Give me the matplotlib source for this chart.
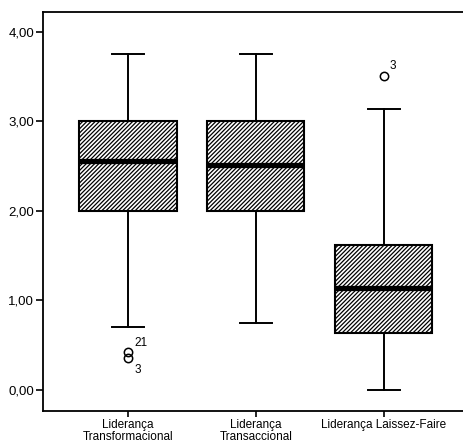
import matplotlib
matplotlib.use("Agg")
import matplotlib.pyplot as plt

plt.rcParams["font.family"] = ["Liberation Sans", "DejaVu Sans"]
plt.rcParams["hatch.linewidth"] = 0.9

categories = ["Liderança\nTransformacional", "Liderança\nTransaccional", "Liderança Laissez-Faire"]
medians = [2.56, 2.51, 1.14]
q1 = [2.00, 2.00, 0.64]
q3 = [3.00, 3.00, 1.62]
whisker_low = [0.70, 0.75, 0.00]
whisker_high = [3.75, 3.75, 3.14]
outliers = [[0.42, 0.36], [], [3.51]]
outlier_labels = [["21", "3"], [], ["3"]]

stats = []
for i in range(len(categories)):
    stats.append({
        "med": medians[i], "q1": q1[i], "q3": q3[i],
        "whislo": whisker_low[i], "whishi": whisker_high[i],
        "fliers": outliers[i],
    })

fig = plt.figure(figsize=(4.63, 4.46), dpi=100)
ax = fig.add_axes([43 / 463, 35 / 446, 420 / 463, 399 / 446])

positions = [1, 2, 3]
bp = ax.bxp(
    stats, positions=positions, widths=0.76, patch_artist=True,
    boxprops=dict(facecolor="white", edgecolor="black", linewidth=1.5, hatch="////////"),
    medianprops=dict(color="black", linewidth=3.8, solid_capstyle="butt"),
    whiskerprops=dict(color="black", linewidth=1.4),
    capprops=dict(color="black", linewidth=1.4),
    capwidths=0.25,
    flierprops=dict(marker="o", markerfacecolor="none", markeredgecolor="black",
                    markersize=6, markeredgewidth=1.1),
)

# labels next to the outlier circles
offsets = {(0, 0): (5, 7), (0, 1): (5, -9), (2, 0): (4, 7)}
for i, (vals, labs) in enumerate(zip(outliers, outlier_labels)):
    for j, (v, lab) in enumerate(zip(vals, labs)):
        dx, dy = offsets[(i, j)]
        ax.annotate(lab, (positions[i], v), xytext=(dx, dy), textcoords="offset points",
                    fontsize=8.5, ha="left", va="center")

ax.set_xlim(0.336, 3.62)
ax.set_ylim(-0.235, 4.22)
ax.set_yticks([0, 1, 2, 3, 4])
ax.set_yticklabels(["0,00", "1,00", "2,00", "3,00", "4,00"], fontsize=9.5)
ax.set_xticks(positions)
ax.set_xticklabels(categories, fontsize=8.5, linespacing=0.95)
ax.tick_params(axis="y", direction="out", length=5, width=1.2, pad=1.5)
ax.tick_params(axis="x", direction="out", length=4, width=1.2, pad=2)
ax.spines["right"].set_visible(False)
for s in ["left", "bottom", "top"]:
    ax.spines[s].set_linewidth(1.3)

fig.savefig("out.png", dpi=100)
